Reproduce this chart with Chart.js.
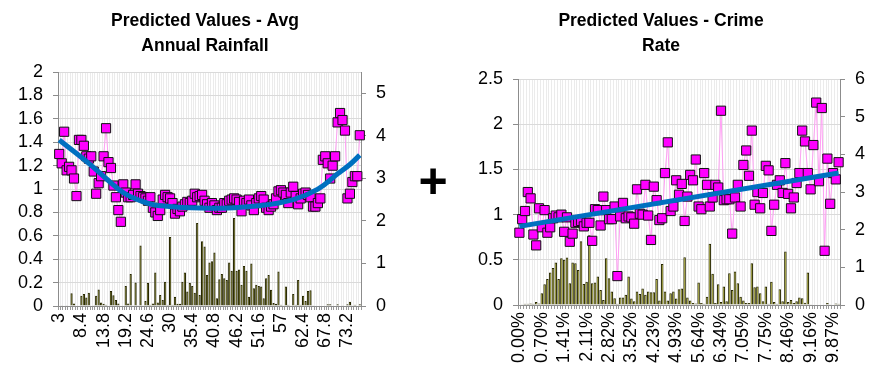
<!DOCTYPE html>
<html>
<head>
<meta charset="utf-8">
<script src="https://cdn.jsdelivr.net/npm/chart.js@4/dist/chart.umd.min.js"></script>
<style>
  html, body { margin: 0; padding: 0; background: #fff; width: 882px; height: 377px; overflow: hidden; }
  #rain { position: absolute; left: 0; top: 0; }
  #crime { position: absolute; left: 440px; top: 0; }
  #plus { position: absolute; left: 433px; top: 181px; transform: translate(-50%, -50%);
          font: bold 50px "Liberation Sans", Arial, sans-serif; color: #000; line-height: 1; }
</style>
</head>
<body>
<canvas id="rain" width="410" height="377"></canvas>
<div id="plus">+</div>
<canvas id="crime" width="442" height="377"></canvas>
<script>
// ---- Avg Annual Rainfall ----
const rainTickLabels = ['3', '8.4', '13.8', '19.2', '24.6', '30', '35.4', '40.8', '46.2', '51.6', '57', '62.4', '67.8', '73.2'];
const rainLabelEvery = 9;
const rainPredicted = [
  1.30, 1.22, 1.49, 1.16, 1.19, 1.16, 1.09, 0.94, 1.42, 1.42,
  1.37, 1.28, 1.26, 1.28, 1.15, 0.96, 1.05, 1.11, 1.28, 1.52,
  1.23, 1.18, 1.03, 0.93, 0.82, 0.72, 1.04, 0.97, 0.93, 0.93,
  0.95, 1.04, 0.96, 0.94, 0.93, 0.92, 0.90, 0.93, 0.84, 0.80,
  0.77, 0.82, 0.91, 0.95, 0.93, 0.92, 0.88, 0.79, 0.83, 0.81,
  0.85, 0.87, 0.89, 0.88, 0.90, 0.96, 0.93, 0.94, 0.95, 0.90,
  0.87, 0.84, 0.88, 0.86, 0.82, 0.84, 0.84, 0.88, 0.87, 0.90,
  0.91, 0.92, 0.91, 0.89, 0.81, 0.90, 0.88, 0.91, 0.86, 0.82,
  0.88, 0.92, 0.94, 0.91, 0.84, 0.82, 0.85, 0.87, 0.92, 0.98,
  0.99, 0.97, 0.95, 0.88, 0.97, 1.02, 0.94, 0.87, 0.92, 0.96,
  0.97, 0.95, 0.93, 0.85, 0.85, 0.88, 0.92, 1.25, 1.28, 1.22,
  1.09, 1.20, 1.28, 1.57, 1.65, 1.59, 1.50, 0.92, 0.96, 1.06,
  1.11, 1.11, 1.46
];
const rainExposure = [
  0.01, 0.02, 0.01, 0.02, 0.01, 0.30, 0.06, 0.00, 0.01, 0.24,
  0.28, 0.20, 0.31, 0.01, 0.02, 0.24, 0.39, 0.08, 0.05, 0.03,
  0.01, 0.35, 0.25, 0.14, 0.06, 0.01, 0.01, 0.47, 0.06, 0.75,
  0.02, 0.55, 0.02, 1.42, 0.02, 0.12, 0.54, 0.03, 0.06, 0.79,
  0.08, 0.26, 0.14, 0.57, 0.03, 1.62, 0.03, 0.22, 0.05, 0.05,
  0.57, 0.79, 0.34, 0.54, 0.47, 0.31, 1.95, 0.26, 1.52, 1.40,
  0.73, 1.02, 1.05, 1.26, 0.18, 0.63, 0.75, 0.65, 0.61, 1.02,
  0.83, 2.07, 0.83, 0.86, 0.50, 0.94, 0.83, 0.22, 1.00, 0.42,
  0.50, 0.47, 0.46, 0.18, 0.65, 0.73, 0.38, 0.07, 0.05, 0.81,
  0.03, 0.02, 0.46, 0.03, 0.02, 0.28, 0.03, 0.61, 0.03, 0.24,
  0.12, 0.35, 0.37, 0.02, 0.01, 0.01, 0.01, 0.01, 0.01, 0.04,
  0.04, 0.01, 0.01, 0.04, 0.01, 0.02, 0.01, 0.04, 0.10, 0.02,
  0.03, 0.01, 0.04
];
// fitted curve, read at a handful of categories
const rainTrendAt    = [0,    12,   19,   26,   33,   40,   61,    82,   95,   105,  113,  118,  122];
const rainTrendValue = [1.42, 1.22, 1.09, 0.97, 0.90, 0.86, 0.835, 0.86, 0.91, 1.00, 1.13, 1.21, 1.29];

// ---- Crime Rate ----
const crimeTickLabels = ['0.00%', '0.70%', '1.41%', '2.11%', '2.82%', '3.52%', '4.23%', '4.93%', '5.64%', '6.34%', '7.05%', '7.75%', '8.46%', '9.16%', '9.87%'];
const crimeLabelEvery = 8;
const crimePredicted = [
  0.80, 0.95, 1.04, 1.25, 1.18, 0.78, 0.66, 1.07, 0.86, 1.05,
  0.80, 0.86, 0.96, 0.99, 0.97, 1.00, 0.81, 0.97, 0.70, 0.79,
  0.91, 0.92, 0.93, 0.87, 0.91, 0.91, 0.71, 1.06, 1.05, 0.88,
  1.20, 1.05, 0.95, 0.95, 1.09, 0.32, 0.98, 1.13, 0.96, 0.98,
  0.97, 0.90, 1.28, 1.01, 1.00, 1.33, 0.99, 0.72, 1.31, 1.16,
  0.94, 0.96, 1.46, 1.80, 1.04, 1.09, 1.38, 1.22, 1.34, 0.93,
  1.20, 1.44, 1.38, 1.61, 1.09, 1.06, 1.46, 1.33, 1.09, 1.19,
  1.33, 1.30, 2.15, 1.16, 1.17, 1.17, 0.79, 1.19, 1.33, 1.09,
  1.55, 1.71, 1.43, 1.93, 1.11, 1.25, 1.07, 1.24, 1.54, 1.49,
  0.82, 1.11, 1.33, 1.38, 1.24, 1.57, 1.23, 1.07, 1.19, 1.35,
  1.46, 1.93, 1.81, 1.46, 1.28, 1.77, 2.24, 1.37, 2.18, 0.60,
  1.62, 1.12, 1.46, 1.39, 1.58
];
const crimeExposure = [
  0.01, 0.02, 0.03, 0.03, 0.04, 0.03, 0.08, 0.04, 0.31, 0.55,
  0.69, 0.86, 0.98, 1.13, 0.69, 1.24, 1.20, 1.26, 0.58, 1.13,
  1.11, 0.93, 1.69, 0.56, 0.62, 1.85, 0.58, 0.60, 0.76, 0.40,
  0.13, 1.24, 0.71, 0.36, 0.18, 0.03, 0.20, 0.20, 0.27, 0.76,
  0.17, 0.10, 0.36, 0.29, 0.44, 0.27, 0.36, 0.34, 0.34, 0.69,
  0.12, 1.09, 0.36, 0.12, 0.31, 0.36, 0.17, 0.42, 0.44, 1.27,
  0.20, 0.12, 0.05, 0.04, 0.60, 0.05, 0.03, 0.22, 1.63, 0.83,
  0.05, 0.55, 0.08, 0.49, 0.10, 0.84, 0.40, 0.89, 0.58, 0.22,
  0.12, 0.05, 0.05, 1.11, 0.47, 0.49, 0.31, 0.10, 0.49, 0.03,
  0.62, 0.08, 0.03, 0.42, 0.10, 1.42, 0.08, 0.13, 0.05, 0.10,
  0.20, 0.18, 0.06, 0.86, 0.02, 0.01, 0.00, 0.01, 0.00, 0.00,
  0.05, 0.02, 0.00, 0.04, 0.03
];
const crimeTrendAt    = [0,    114];
const crimeTrendValue = [0.87, 1.46];

Chart.defaults.font.family = '"Liberation Sans", Arial, sans-serif';
Chart.defaults.color = '#000';

function sparseSeries(n, at, values) {
  const out = new Array(n).fill(null);
  at.forEach((k, j) => { out[k] = values[j]; });
  return out;
}

function categoryLabels(n, every, tickLabels) {
  return Array.from({ length: n }, (_, i) =>
    i % every === 0 && tickLabels[i / every] !== undefined ? tickLabels[i / every] : '');
}

const plainNumber = v => String(Number(v.toFixed(2)));

function drawPanel(id, o) {
  const n = o.predicted.length;
  return new Chart(document.getElementById(id), {
    type: 'bar',
    data: {
      labels: categoryLabels(n, o.every, o.tickLabels),
      datasets: [
        { type: 'line', data: sparseSeries(n, o.trendAt, o.trendValue), yAxisID: 'y',
          borderColor: '#0070c0', borderWidth: 5, pointRadius: 0, tension: o.tension,
          spanGaps: true, order: 0 },
        { type: 'line', data: o.predicted, yAxisID: 'y',
          borderColor: '#ffa0f4', borderWidth: 1, pointStyle: 'rect', pointRadius: 6.5,
          pointBackgroundColor: '#ff00ff', pointBorderColor: '#111', pointBorderWidth: 1, order: 1 },
        { type: 'bar', data: o.exposure, yAxisID: 'y2',
          backgroundColor: '#a9a90c', borderColor: '#262600', borderWidth: 1,
          barPercentage: 0.9, categoryPercentage: 1, order: 2 }
      ]
    },
    options: {
      responsive: false,
      animation: false,
      events: [],
      layout: { padding: 0 },
      plugins: {
        legend: { display: false },
        tooltip: { enabled: false },
        title: { display: true, text: o.title, color: '#000',
                 font: { size: 17.5, weight: 'bold', lineHeight: 1.46 },
                 padding: { top: o.titleTop, bottom: o.titleBottom } }
      },
      scales: {
        x: {
          grid: { color: '#ebebeb', tickColor: '#9a9a9a', tickLength: 4 },
          border: { color: '#8c8c8c' },
          ticks: { autoSkip: false, maxRotation: 90, minRotation: 90, padding: 3,
                   font: { size: 18 }, color: '#000' },
          afterFit: s => { s.height = o.xHeight; }
        },
        y: {
          position: 'left', min: 0, max: o.yMax,
          ticks: { stepSize: o.yStep, autoSkip: false, padding: 10, font: { size: 18 }, color: '#000',
                   callback: plainNumber },
          grid: { color: '#dadada', tickColor: '#8c8c8c', tickLength: 5 },
          border: { color: '#8c8c8c' },
          afterFit: s => { s.width = o.yWidth; }
        },
        y2: {
          position: 'right', min: 0, max: o.y2Max,
          ticks: { stepSize: 1, autoSkip: false, includeBounds: false, padding: 10, font: { size: 18 }, color: '#000',
                   callback: plainNumber },
          grid: { drawOnChartArea: false, tickColor: '#8c8c8c', tickLength: 5 },
          border: { color: '#8c8c8c' },
          afterFit: s => { s.width = o.y2Width; }
        }
      }
    }
  });
}

drawPanel('rain', {
  title: ['Predicted Values - Avg', 'Annual Rainfall'],
  tickLabels: rainTickLabels, every: rainLabelEvery,
  predicted: rainPredicted, exposure: rainExposure,
  trendAt: rainTrendAt, trendValue: rainTrendValue, tension: 0.4,
  yMax: 2, yStep: 0.2, y2Max: 5.5,
  yWidth: 58, y2Width: 49, xHeight: 71, titleTop: 8, titleBottom: 13
});

drawPanel('crime', {
  title: ['Predicted Values - Crime', 'Rate'],
  tickLabels: crimeTickLabels, every: crimeLabelEvery,
  predicted: crimePredicted, exposure: crimeExposure,
  trendAt: crimeTrendAt, trendValue: crimeTrendValue, tension: 0,
  yMax: 2.5, yStep: 0.5, y2Max: 6,
  yWidth: 78, y2Width: 42, xHeight: 72, titleTop: 8, titleBottom: 20
});
</script>
</body>
</html>
